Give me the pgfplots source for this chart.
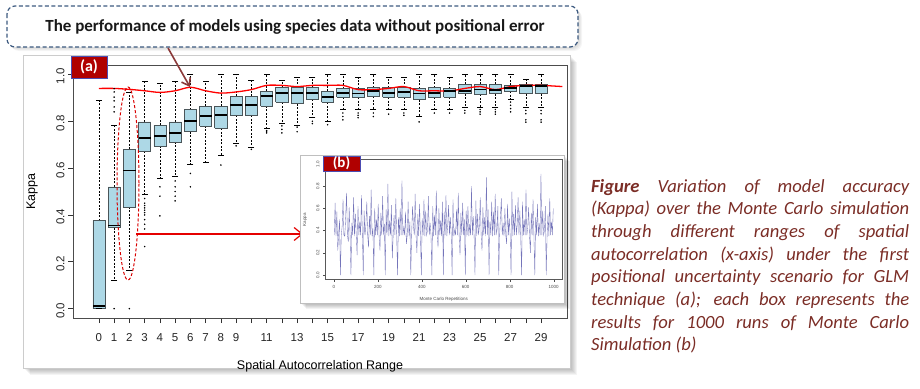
\documentclass[border=0pt]{standalone}
\usepackage{pgfplots}
\pgfplotsset{compat=1.18}
\usetikzlibrary{arrows.meta}
\usepackage{fontspec}
\setmainfont{Liberation Sans}
\newfontfamily\calibri{Carlito}
\definecolor{boxblue}{HTML}{ADD8E6}
\definecolor{boxedge}{HTML}{4A5559}
\definecolor{labred}{HTML}{B00000}
\definecolor{capcol}{HTML}{7B2D26}
\definecolor{dashblue}{HTML}{3D5A80}
\definecolor{arrbrown}{HTML}{8B3A3A}
\definecolor{navyline}{HTML}{1A1A8C}
\begin{document}
\begin{tikzpicture}
\useasboundingbox (0pt,0pt) rectangle (920pt,-388pt);
\begin{scope}[x=1pt,y=-1pt]
  \foreach \s in {1,...,7}{\fill[black, opacity=0.045] (23+\s,55+\s) rectangle (570+\s,368+\s);}
  \fill[white] (23,55) rectangle (570,368);
  \draw[gray!40, line width=0.4pt] (23,55) rectangle (570,368);
\end{scope}

\begin{axis}[
  at={(73pt,-318pt)}, anchor=south west,
  scale only axis, width=494pt, height=253pt,
  xmin=-1.7, xmax=30.7, ymin=-0.04, ymax=1.04,
  unbounded coords=jump,
  axis line style={draw=gray!60!black, line width=0.8pt},
  xtick={0,...,29},
  xticklabels={0,1,2,3,4,5,6,7,8,9,,11,,13,,15,,17,,19,,21,,23,,25,,27,,29},
  ytick={0,0.2,0.4,0.6,0.8,1.0},
  yticklabels={0.0,0.2,0.4,0.6,0.8,1.0},
  tick align=outside, major tick length=5pt,
  tick style={black!80, line width=0.6pt},
  xtick pos=bottom, ytick pos=left,
  tick label style={font=\fontsize{11.5}{12}\selectfont, text=black!85},
  xticklabel style={yshift=-7pt},
  yticklabel style={rotate=90, anchor=south, xshift=-2pt},
  xlabel={Spatial Autocorrelation Range},
  ylabel={Kappa},
  every axis x label/.style={at={(axis description cs:0.5,-0.19)}, anchor=center, font=\fontsize{12.5}{14}\selectfont},
  every axis y label/.style={at={(axis description cs:-0.083,0.5)}, rotate=90, anchor=center, font=\fontsize{12.5}{14}\selectfont},
]
% whiskers (quartile to whisker end), dashed
\addplot[black, line width=0.5pt, dash pattern=on 2pt off 1.5pt, mark=none] coordinates {
(0,0.376)(0,0.89)(0,nan)
(1,0.52)(1,0.783)(1,nan)(1,0.346)(1,0.12)(1,nan)
(2,0.68)(2,0.925)(2,nan)(2,0.434)(2,0.162)(2,nan)
(3,0.797)(3,0.97)(3,nan)(3,0.672)(3,0.49)(3,nan)
(4,0.783)(4,0.96)(4,nan)(4,0.695)(4,0.557)(4,nan)
(5,0.797)(5,0.97)(5,nan)(5,0.712)(5,0.566)(5,nan)
(6,0.85)(6,1.0)(6,nan)(6,0.755)(6,0.616)(6,nan)
(7,0.864)(7,0.97)(7,nan)(7,0.78)(7,0.624)(7,nan)
(8,0.864)(8,1.0)(8,nan)(8,0.77)(8,0.655)(8,nan)
(9,0.906)(9,1.0)(9,nan)(9,0.825)(9,0.705)(9,nan)
(10,0.906)(10,0.975)(10,nan)(10,0.825)(10,0.69)(10,nan)
(11,0.929)(11,1.0)(11,nan)(11,0.865)(11,0.77)(11,nan)
(12,0.943)(12,0.975)(12,nan)(12,0.88)(12,0.79)(12,nan)
(13,0.943)(13,0.986)(13,nan)(13,0.875)(13,0.783)(13,nan)
(14,0.943)(14,0.986)(14,nan)(14,0.894)(14,0.816)(14,nan)
(15,0.929)(15,1.0)(15,nan)(15,0.88)(15,0.80)(15,nan)
(16,0.939)(16,1.0)(16,nan)(16,0.903)(16,0.85)(16,nan)
(17,0.939)(17,0.986)(17,nan)(17,0.903)(17,0.85)(17,nan)
(18,0.943)(18,1.0)(18,nan)(18,0.906)(18,0.85)(18,nan)
(19,0.943)(19,0.986)(19,nan)(19,0.903)(19,0.85)(19,nan)
(20,0.943)(20,0.986)(20,nan)(20,0.903)(20,0.85)(20,nan)
(21,0.939)(21,1.0)(21,nan)(21,0.892)(21,0.82)(21,nan)
(22,0.943)(22,1.0)(22,nan)(22,0.903)(22,0.85)(22,nan)
(23,0.939)(23,0.986)(23,nan)(23,0.903)(23,0.85)(23,nan)
(24,0.957)(24,1.0)(24,nan)(24,0.918)(24,0.861)(24,nan)
(25,0.957)(25,1.0)(25,nan)(25,0.915)(25,0.861)(25,nan)
(26,0.957)(26,1.0)(26,nan)(26,0.918)(26,0.861)(26,nan)
(27,0.953)(27,1.0)(27,nan)(27,0.929)(27,0.892)(27,nan)
(28,0.957)(28,0.98)(28,nan)(28,0.918)(28,0.861)(28,nan)
(29,0.957)(29,1.0)(29,nan)(29,0.918)(29,0.861)
};
% whisker caps (upper and lower whisker ends)
\addplot[only marks, mark=-, mark size=3.05pt, mark options={black, line width=0.6pt}] coordinates {
(0,0.89)(0,0)(1,0.783)(1,0.12)(2,0.925)(2,0.162)(3,0.97)(3,0.49)(4,0.96)(4,0.557)
(5,0.97)(5,0.566)(6,1.0)(6,0.616)(7,0.97)(7,0.624)(8,1.0)(8,0.655)(9,1.0)(9,0.705)
(10,0.975)(10,0.69)(11,1.0)(11,0.77)(12,0.975)(12,0.79)(13,0.986)(13,0.783)(14,0.986)(14,0.816)
(15,1.0)(15,0.80)(16,1.0)(16,0.85)(17,0.986)(17,0.85)(18,1.0)(18,0.85)(19,0.986)(19,0.85)
(20,0.986)(20,0.85)(21,1.0)(21,0.82)(22,1.0)(22,0.85)(23,0.986)(23,0.85)(24,1.0)(24,0.861)
(25,1.0)(25,0.861)(26,1.0)(26,0.861)(27,1.0)(27,0.892)(28,0.98)(28,0.861)(29,1.0)(29,0.861)
};
% boxes (lower quartile to upper quartile)
\addplot[fill=boxblue, draw=boxedge, line width=0.6pt, mark=none] coordinates {
(-0.4,0)(0.4,0)(0.4,0.376)(-0.4,0.376)(-0.4,0)(0,nan)
(0.6,0.346)(1.4,0.346)(1.4,0.52)(0.6,0.52)(0.6,0.346)(1,nan)
(1.6,0.434)(2.4,0.434)(2.4,0.68)(1.6,0.68)(1.6,0.434)(2,nan)
(2.6,0.672)(3.4,0.672)(3.4,0.797)(2.6,0.797)(2.6,0.672)(3,nan)
(3.6,0.695)(4.4,0.695)(4.4,0.783)(3.6,0.783)(3.6,0.695)(4,nan)
(4.6,0.712)(5.4,0.712)(5.4,0.797)(4.6,0.797)(4.6,0.712)(5,nan)
(5.6,0.755)(6.4,0.755)(6.4,0.85)(5.6,0.85)(5.6,0.755)(6,nan)
(6.6,0.78)(7.4,0.78)(7.4,0.864)(6.6,0.864)(6.6,0.78)(7,nan)
(7.6,0.77)(8.4,0.77)(8.4,0.864)(7.6,0.864)(7.6,0.77)(8,nan)
(8.6,0.825)(9.4,0.825)(9.4,0.906)(8.6,0.906)(8.6,0.825)(9,nan)
(9.6,0.825)(10.4,0.825)(10.4,0.906)(9.6,0.906)(9.6,0.825)(10,nan)
(10.6,0.865)(11.4,0.865)(11.4,0.929)(10.6,0.929)(10.6,0.865)(11,nan)
(11.6,0.88)(12.4,0.88)(12.4,0.943)(11.6,0.943)(11.6,0.88)(12,nan)
(12.6,0.875)(13.4,0.875)(13.4,0.943)(12.6,0.943)(12.6,0.875)(13,nan)
(13.6,0.894)(14.4,0.894)(14.4,0.943)(13.6,0.943)(13.6,0.894)(14,nan)
(14.6,0.88)(15.4,0.88)(15.4,0.929)(14.6,0.929)(14.6,0.88)(15,nan)
(15.6,0.903)(16.4,0.903)(16.4,0.939)(15.6,0.939)(15.6,0.903)(16,nan)
(16.6,0.903)(17.4,0.903)(17.4,0.939)(16.6,0.939)(16.6,0.903)(17,nan)
(17.6,0.906)(18.4,0.906)(18.4,0.943)(17.6,0.943)(17.6,0.906)(18,nan)
(18.6,0.903)(19.4,0.903)(19.4,0.943)(18.6,0.943)(18.6,0.903)(19,nan)
(19.6,0.903)(20.4,0.903)(20.4,0.943)(19.6,0.943)(19.6,0.903)(20,nan)
(20.6,0.892)(21.4,0.892)(21.4,0.939)(20.6,0.939)(20.6,0.892)(21,nan)
(21.6,0.903)(22.4,0.903)(22.4,0.943)(21.6,0.943)(21.6,0.903)(22,nan)
(22.6,0.903)(23.4,0.903)(23.4,0.939)(22.6,0.939)(22.6,0.903)(23,nan)
(23.6,0.918)(24.4,0.918)(24.4,0.957)(23.6,0.957)(23.6,0.918)(24,nan)
(24.6,0.915)(25.4,0.915)(25.4,0.957)(24.6,0.957)(24.6,0.915)(25,nan)
(25.6,0.918)(26.4,0.918)(26.4,0.957)(25.6,0.957)(25.6,0.918)(26,nan)
(26.6,0.929)(27.4,0.929)(27.4,0.953)(26.6,0.953)(26.6,0.929)(27,nan)
(27.6,0.918)(28.4,0.918)(28.4,0.957)(27.6,0.957)(27.6,0.918)(28,nan)
(28.6,0.918)(29.4,0.918)(29.4,0.957)(28.6,0.957)(28.6,0.918)
};
% medians
\addplot[only marks, mark=-, mark size=6.1pt, mark options={black, line width=1.8pt}] coordinates {
(0,0.012)(1,0.355)(2,0.59)(3,0.73)(4,0.736)(5,0.75)(6,0.80)(7,0.822)(8,0.825)(9,0.868)
(10,0.868)(11,0.908)(12,0.922)(13,0.92)(14,0.92)(15,0.903)(16,0.922)(17,0.918)(18,0.929)(19,0.922)
(20,0.925)(21,0.918)(22,0.922)(23,0.929)(24,0.929)(25,0.935)(26,0.932)(27,0.942)(28,0.95)(29,0.95)
};
% outliers
\addplot[only marks, mark=*, mark size=0.55pt, mark options={black, fill=black}] coordinates {
(1,0) (1,0.84) (1,0.861) (1,0.887) (1,0.903) (1,0.925) (1,0.939)
(2,0)
(3,0.47) (3,0.45) (3,0.44) (3,0.43) (3,0.42) (3,0.41) (3,0.40) (3,0.38) (3,0.36) (3,0.34) (3,0.265)
(4,0.52) (4,0.48) (4,0.396)
(5,0.545) (5,0.52) (5,0.50) (5,0.48) (5,0.46)
(6,0.577) (6,0.52)
(8,0.613) (9,0.695) (10,0.68)
(11,0.76) (11,0.755) (11,0.75)
(12,0.78) (12,0.765) (12,0.75)
(13,0.775) (13,0.755)
(14,0.80) (14,0.79)
(15,0.785)
(16,0.835) (16,0.82) (16,0.806)
(17,0.835) (17,0.825) (17,0.815)
(18,0.835) (18,0.82)
(19,0.83)
(20,0.835) (20,0.825)
(21,0.797) (22,0.835) (23,0.835)
(24,0.846) (24,0.835)
(25,0.85) (25,0.84) (25,0.83)
(26,0.85) (26,0.84) (26,0.83)
(27,0.882) (27,0.868) (27,0.854) (27,0.84)
(28,0.846) (28,0.832) (28,0.806) (28,0.796)
(29,0.846) (29,0.832) (29,0.806) (29,0.796)
};
% red reference line
\addplot[red, line width=1.3pt, smooth, mark=none] coordinates {
(0,0.94) (1,0.94) (2,0.936) (3,0.93) (4,0.923) (5,0.93) (6,0.945) (7,0.93) (8,0.92) (9,0.925)
(10,0.935) (11,0.953) (12,0.953) (13,0.948) (14,0.953) (15,0.953) (16,0.953) (17,0.935) (18,0.935) (19,0.94)
(20,0.948) (21,0.93) (22,0.93) (23,0.929) (24,0.94) (25,0.948) (26,0.935) (27,0.948) (28,0.953) (29,0.953) (30.4,0.948)};
\end{axis}

\begin{scope}[x=1pt,y=-1pt]
  \draw[red!85!black, line width=1pt, dash pattern=on 3pt off 2pt] (128,183.5) ellipse [x radius=11, y radius=96.5];
  \draw[red!90!black, line width=1.2pt, -{Straight Barb[length=8pt,width=13pt,line width=1.2pt]}] (136,234) -- (303,234);
  \foreach \s in {1,...,6}{\fill[black, opacity=0.05] (300+\s,155+\s) rectangle (564+\s,303+\s);}
  \fill[white] (300,155) rectangle (564,303);
  \draw[gray!50, line width=0.4pt] (300,155) rectangle (564,303);
\end{scope}

\begin{axis}[
  at={(325pt,-279.5pt)}, anchor=south west,
  scale only axis, width=237.5pt, height=120pt,
  xmin=-40, xmax=1040, ymin=-0.04, ymax=1.04,
  axis line style={draw=gray!70!black, line width=0.4pt},
  xtick={0,200,400,600,800,1000},
  xticklabels={0,200,400,600,800,1000},
  ytick={0,0.2,0.4,0.6,0.8,1.0},
  yticklabels={0.0,0.2,0.4,0.6,0.8,1.0},
  tick align=outside, major tick length=2pt,
  tick style={gray!60!black, line width=0.3pt},
  xtick pos=bottom, ytick pos=left,
  tick label style={font=\fontsize{4.5}{5}\selectfont, text=black!70},
  yticklabel style={rotate=90, anchor=south},
  xlabel={Monte Carlo Repetitions}, ylabel={Kappa},
  every axis x label/.style={at={(axis description cs:0.5,-0.1625)}, anchor=center, font=\fontsize{4.5}{5}\selectfont, text=black!70},
  every axis y label/.style={at={(axis description cs:-0.084,0.5)}, rotate=90, anchor=center, font=\fontsize{4.5}{5}\selectfont, text=black!70},
]
\addplot[navyline, line width=0.35pt, opacity=0.6, mark=none] table[row sep=\\, x expr=\coordindex*4+2, y=kappa] {
kappa\\
0.36\\ 0.65\\ 0.35\\ 0.57\\ 0.22\\ 0.36\\ 0.50\\ 0.00\\ 0.36\\ 0.44\\
0.68\\ 0.36\\ 0.35\\ 0.52\\ 0.74\\ 0.36\\ 0.30\\ 0.61\\ 0.36\\ 0.00\\
0.47\\ 0.36\\ 0.70\\ 0.35\\ 0.55\\ 0.36\\ 0.18\\ 0.62\\ 0.36\\ 0.48\\
0.36\\ 0.72\\ 0.35\\ 0.00\\ 0.58\\ 0.36\\ 0.45\\ 0.66\\ 0.36\\ 0.25\\
0.53\\ 0.36\\ 0.77\\ 0.35\\ 0.42\\ 0.00\\ 0.60\\ 0.36\\ 0.50\\ 0.36\\
0.64\\ 0.35\\ 0.22\\ 0.56\\ 0.36\\ 0.71\\ 0.36\\ 0.46\\ 0.00\\ 0.59\\
0.36\\ 0.82\\ 0.35\\ 0.49\\ 0.36\\ 0.63\\ 0.15\\ 0.36\\ 0.54\\ 0.36\\
0.69\\ 0.36\\ 0.00\\ 0.52\\ 0.35\\ 0.60\\ 0.36\\ 0.85\\ 0.36\\ 0.43\\
0.36\\ 0.57\\ 0.28\\ 0.36\\ 0.66\\ 0.35\\ 0.48\\ 0.00\\ 0.36\\ 0.62\\
0.45\\ 0.36\\ 0.73\\ 0.36\\ 0.20\\ 0.55\\ 0.35\\ 0.64\\ 0.36\\ 0.00\\
0.51\\ 0.36\\ 0.68\\ 0.35\\ 0.58\\ 0.36\\ 0.40\\ 0.71\\ 0.36\\ 0.47\\
0.36\\ 0.00\\ 0.62\\ 0.35\\ 0.54\\ 0.36\\ 0.76\\ 0.36\\ 0.25\\ 0.60\\
0.36\\ 0.49\\ 0.35\\ 0.66\\ 0.00\\ 0.57\\ 0.36\\ 0.72\\ 0.35\\ 0.45\\
0.63\\ 0.36\\ 0.52\\ 0.36\\ 0.00\\ 0.68\\ 0.35\\ 0.41\\ 0.36\\ 0.59\\
0.36\\ 0.74\\ 0.35\\ 0.18\\ 0.56\\ 0.36\\ 0.65\\ 0.36\\ 0.50\\ 0.00\\
0.58\\ 0.36\\ 0.62\\ 0.35\\ 0.46\\ 0.36\\ 0.80\\ 0.36\\ 0.53\\ 0.36\\
0.00\\ 0.67\\ 0.35\\ 0.55\\ 0.36\\ 0.44\\ 0.70\\ 0.36\\ 0.22\\ 0.61\\
0.36\\ 0.52\\ 0.35\\ 0.88\\ 0.36\\ 0.59\\ 0.00\\ 0.48\\ 0.36\\ 0.66\\
0.35\\ 0.57\\ 0.36\\ 0.73\\ 0.36\\ 0.42\\ 0.62\\ 0.00\\ 0.36\\ 0.54\\
0.69\\ 0.36\\ 0.47\\ 0.35\\ 0.60\\ 0.36\\ 0.28\\ 0.64\\ 0.36\\ 0.51\\
0.36\\ 0.00\\ 0.75\\ 0.35\\ 0.55\\ 0.36\\ 0.63\\ 0.36\\ 0.45\\ 0.70\\
0.36\\ 0.58\\ 0.35\\ 0.00\\ 0.66\\ 0.36\\ 0.50\\ 0.36\\ 0.77\\ 0.36\\
0.43\\ 0.61\\ 0.35\\ 0.20\\ 0.56\\ 0.36\\ 0.68\\ 0.36\\ 0.00\\ 0.52\\
0.36\\ 0.64\\ 0.35\\ 0.47\\ 0.36\\ 0.91\\ 0.36\\ 0.58\\ 0.36\\ 0.40\\
0.62\\ 0.00\\ 0.36\\ 0.55\\ 0.35\\ 0.69\\ 0.36\\ 0.48\\ 0.36\\ 0.60\\
};
\end{axis}

\begin{scope}[x=1pt,y=-1pt]
  \draw[fill=labred, draw=gray!60!blue, line width=0.4pt] (323,156) rectangle (360,171);
  \node[text=white, font=\calibri\bfseries\fontsize{15}{16}\selectfont] at (341.5,163.5) {(b)};
  \draw[fill=labred, draw=gray!60!blue, line width=0.5pt] (71,56) rectangle (107,78);
  \node[text=white, font=\calibri\bfseries\fontsize{16}{17}\selectfont] at (89,67) {(a)};
  \foreach \s in {1,...,4}{\fill[black, opacity=0.04, rounded corners=8pt] (7+\s,6+\s) rectangle (578+\s,47+\s);}
  \draw[dashblue, line width=1.2pt, dash pattern=on 4pt off 2.5pt, rounded corners=8pt, fill=white] (7,6) rectangle (578,47);
  \node[text=black!90, font=\calibri\bfseries\fontsize{17}{18}\selectfont] at (295,27) {The performance of models using species data without positional error};
  \draw[arrbrown, line width=1.6pt, -{Straight Barb[length=7pt,width=10pt,line width=1.6pt]}] (168,48) -- (190,87);
  \node[anchor=base west, inner sep=0pt, text=capcol] at (591,192) {\parbox[t]{318pt}{\calibri\itshape\fontsize{18.6}{22.7}\selectfont\textbf{Figure} Variation of model accuracy\linebreak (Kappa) over the Monte Carlo simulation\linebreak through different ranges of spatial\linebreak autocorrelation (x-axis) under the first\linebreak positional uncertainty scenario for GLM\linebreak technique (a); each box represents the\linebreak results for 1000 runs of Monte Carlo\linebreak Simulation (b)}};
\end{scope}
\end{tikzpicture}
\end{document}
